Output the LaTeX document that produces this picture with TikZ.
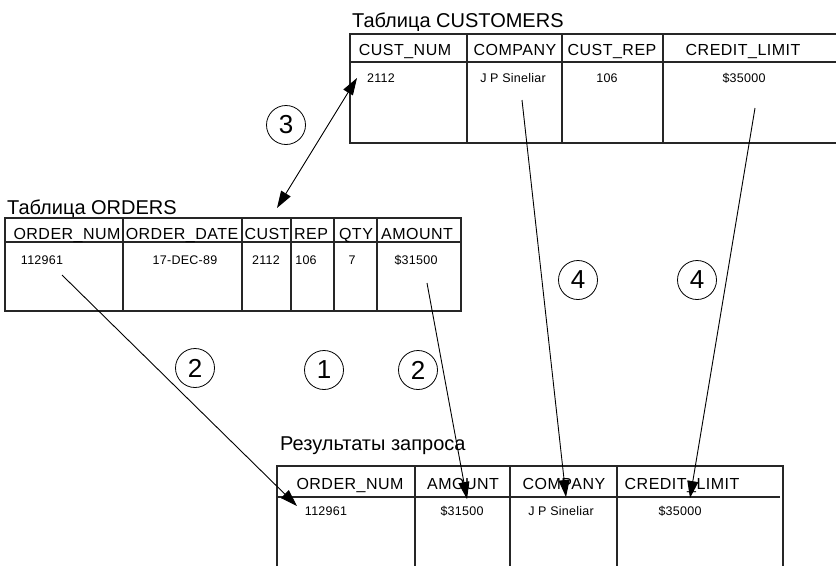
\documentclass[tikz,border=0pt]{standalone}
\usepackage{fontspec}
\setmainfont{Liberation Sans}
\newfontfamily\hdrfont[LetterSpace=3]{Liberation Sans}
\newfontfamily\datfont[LetterSpace=2]{Liberation Sans}
\usetikzlibrary{arrows.meta}
\begin{document}
\begin{tikzpicture}[x=1pt,y=-1pt,
  tbl/.style={line width=1.5pt, draw=black!85},
  colline/.style={line width=1.2pt, draw=black!85},
  hdr/.style={anchor=base, inner sep=0pt, font=\hdrfont\fontsize{16}{16}\selectfont},
  dat/.style={anchor=base, inner sep=0pt, font=\datfont\fontsize{12.5}{12.5}\selectfont},
  ttl/.style={anchor=base west, inner sep=0pt, font=\fontsize{20}{20}\selectfont},
  num/.style={circle, draw, line width=0.8pt, minimum size=39pt, inner sep=0pt, font=\fontsize{26}{26}\selectfont},
  link/.style={line width=0.9pt, -{Triangle[length=17pt,width=11pt]}},
  biglink/.style={line width=0.9pt, {Triangle[length=17pt,width=11pt]}-{Triangle[length=17pt,width=11pt]}},
]
\useasboundingbox (0,0) rectangle (836,566);

% ---------- CUSTOMERS table ----------
\node[ttl] (tcust) at (352,27) {Таблица CUSTOMERS};
\draw[tbl] (836,34) -- (350,34) -- (350,143) -- (836,143);
\draw[tbl] (350,62) -- (836,62);
\foreach \x in {467,562,663} \draw[colline] (\x,34) -- (\x,143);
\node[hdr] (c1) at (405,55) {CUST\_NUM};
\node[hdr] (c2) at (515,55) {COMPANY};
\node[hdr] (c3) at (612,55) {CUST\_REP};
\node[hdr] (c4) at (743,55) {CREDIT\_LIMIT};
\node[dat] (cd1) at (381,82) {2112};
\node[dat] (cd2) at (513,82) {J P Sineliar};
\node[dat] (cd3) at (607,82) {106};
\node[dat] (cd4) at (744,82) {\$35000};

% ---------- ORDERS table ----------
\node[ttl] (tord) at (7,214) {Таблица ORDERS};
\draw[tbl] (5,218) rectangle (461,311);
\draw[tbl] (5,242) -- (461,242);
\foreach \x in {123,242,291,334,377} \draw[colline] (\x,218) -- (\x,311);
\node[hdr] (o1) at (67,239) {ORDER\_NUM};
\node[hdr] (o2) at (182,239) {ORDER\_DATE};
\node[hdr] (o3) at (267,239) {CUST};
\node[hdr] (o4) at (311,239) {REP};
\node[hdr] (o5) at (356,239) {QTY};
\node[hdr] (o6) at (417,239) {AMOUNT};
\node[dat] (od1) at (42,264) {112961};
\node[dat] (od2) at (185,264) {17-DEC-89};
\node[dat] (od3) at (266,264) {2112};
\node[dat] (od4) at (306,264) {106};
\node[dat] (od5) at (352,264) {7};
\node[dat] (od6) at (416,264) {\$31500};

% ---------- Result table ----------
\node[ttl] (tres) at (280,450) {Результаты запроса};
\draw[tbl] (277,566) -- (277,466) -- (783,466) -- (783,566);
\draw[tbl] (277,497) -- (780,497);
\foreach \x in {415,510,617} \draw[colline] (\x,466) -- (\x,566);
\node[hdr] (r1) at (350,489) {ORDER\_NUM};
\node[hdr] (r2) at (463,489) {AMOUNT};
\node[hdr] (r3) at (564,489) {COMPANY};
\node[hdr] (r4) at (682,489) {CREDIT\_LIMIT};
\node[dat] (rd1) at (326,515) {112961};
\node[dat] (rd2) at (462,515) {\$31500};
\node[dat] (rd3) at (561,515) {J P Sineliar};
\node[dat] (rd4) at (680,515) {\$35000};

% ---------- numbered circles ----------
\node[num] (n3)  at (286,125) {3};
\node[num] (n2a) at (195,368) {2};
\node[num] (n1)  at (324,370) {1};
\node[num] (n2b) at (418,370) {2};
\node[num] (n4a) at (578,280) {4};
\node[num] (n4b) at (697,280) {4};

% ---------- connector ends ----------
\coordinate (a3s) at (277,208);
\coordinate (a3e) at (357,78);
\coordinate (a2as) at (62,275);
\coordinate (a2ae) at (297,506);
\coordinate (a2bs) at (427,283);
\coordinate (a2be) at (467,499);
\coordinate (a4as) at (522,100);
\coordinate (a4ae) at (566,497);
\coordinate (a4bs) at (755,108);
\coordinate (a4be) at (690,498);

% ---------- connectors ----------
\draw[biglink] (a3s) -- (a3e);
\draw[link] (a2as) -- (a2ae);
\draw[link] (a2bs) -- (a2be);
\draw[link] (a4as) -- (a4ae);
\draw[link] (a4bs) -- (a4be);
\end{tikzpicture}
\end{document}
